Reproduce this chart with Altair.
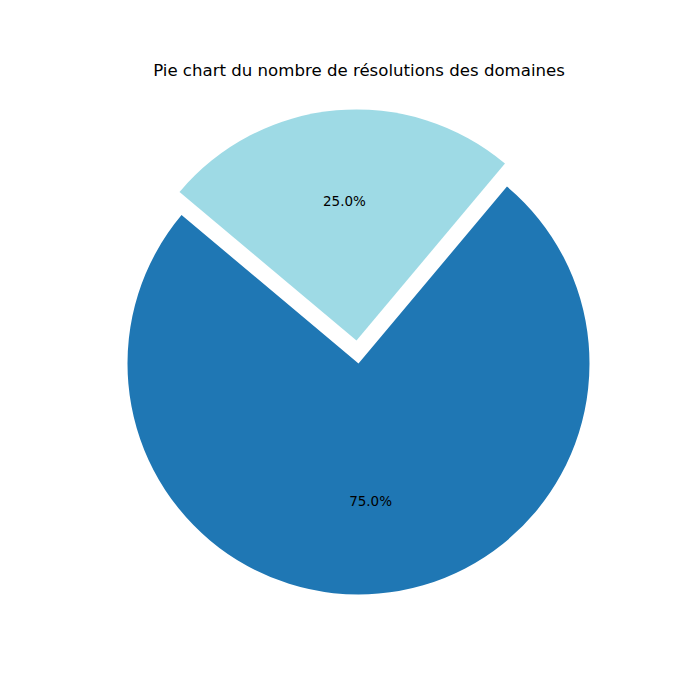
import math
import altair as alt
import pandas as pd

categories = ["Domaine A", "Domaine B"]
values = [75, 25]
colors = ["#1f77b4", "#9edae5"]
explode = [0.0, 0.1]

title_text = "Pie chart du nombre de résolutions des domaines"

total = sum(values)
rows = []
cum = 0.0
for c, v, col, ex in zip(categories, values, colors, explode):
    rows.append({"cat": c, "value": v, "start": cum, "end": cum + v,
                 "mid": cum + v / 2, "label": f"{100 * v / total:.1f}%",
                 "color": col, "explode": ex})
    cum += v
df = pd.DataFrame(rows)

W, H = 684, 684
CX, CY = 350.5, 355.5
R = 231
start = math.radians(40)
theta_scale = alt.Scale(domain=[0, total], range=[start, start + 2 * math.pi])

layers = []
for i, r in df.iterrows():
    mid_ang = start + 2 * math.pi * r["mid"] / total
    dx = math.sin(mid_ang) * r["explode"] * R
    dy = -math.cos(mid_ang) * r["explode"] * R
    sub = alt.Chart(df).transform_filter(alt.datum.cat == r["cat"])
    arc = sub.mark_arc(radius=R, stroke=None).encode(
        theta=alt.Theta("start:Q", scale=theta_scale),
        theta2="end:Q",
        color=alt.Color("cat:N", scale=alt.Scale(domain=categories, range=colors), legend=None),
        x=alt.value(CX + dx),
        y=alt.value(CY + dy),
    )
    txt = sub.mark_text(radius=0.6 * R, font="DejaVu Sans", fontSize=13.5, color="black").encode(
        theta=alt.Theta("mid:Q", scale=theta_scale),
        text="label:N",
        x=alt.value(CX + dx),
        y=alt.value(CY + dy),
    )
    layers += [arc, txt]

title = alt.Chart(pd.DataFrame({"t": [title_text]})).mark_text(
    font="DejaVu Sans", fontSize=16.6, color="black", baseline="middle"
).encode(text="t:N", x=alt.value(CX + 0.5), y=alt.value(63))

chart = alt.layer(*layers, title).properties(
    width=W, height=H, padding=0, autosize="none"
).configure_view(stroke=None)

chart.save("out.html", embed_options={"renderer": "svg", "actions": False})
